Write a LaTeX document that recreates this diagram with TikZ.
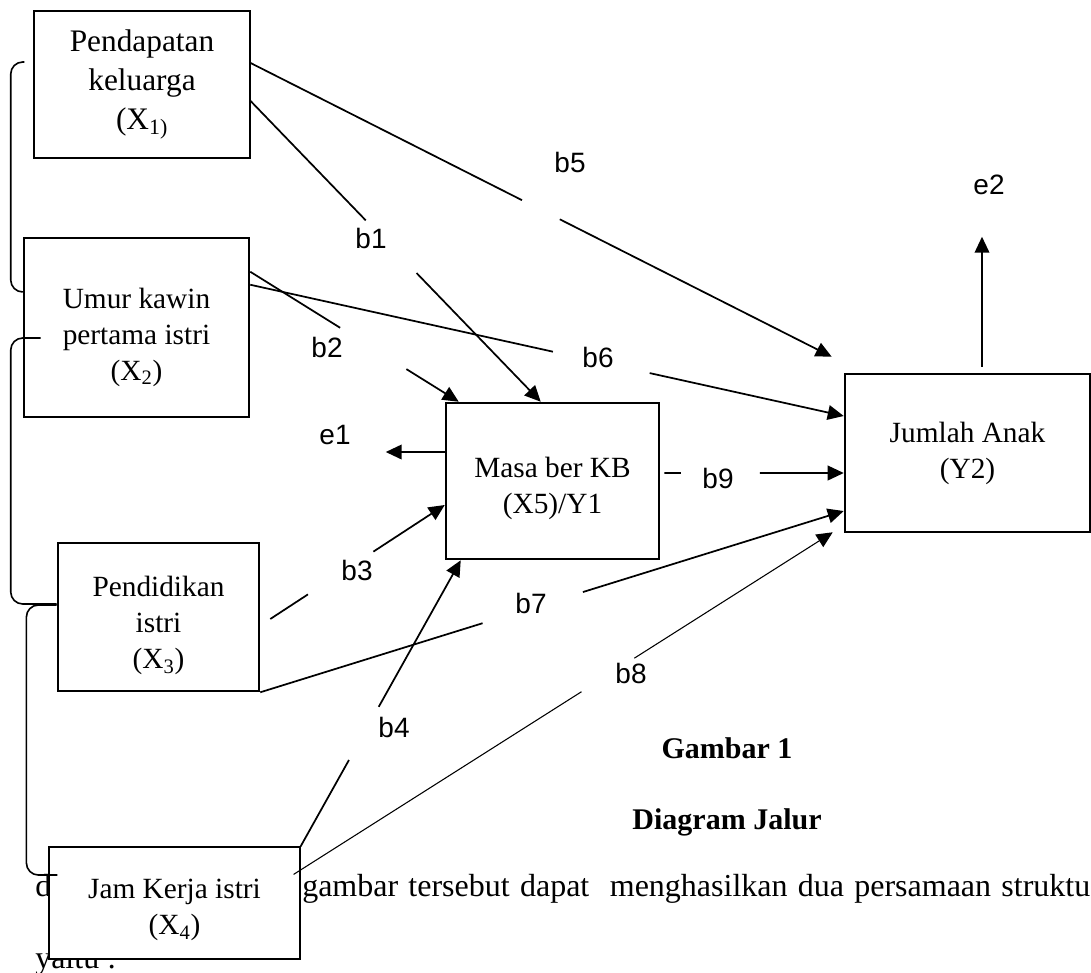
\documentclass[tikz,border=0pt]{standalone}
\usepackage{fontspec}
\setmainfont{Liberation Serif}
\setsansfont{Liberation Sans}
\usepackage{tikz}
\usetikzlibrary{arrows.meta,calc,positioning}
\newcommand{\varfont}{\fontsize{22}{27}\selectfont}
\newcommand{\coeffont}{\sffamily\fontsize{21}{24}\selectfont}
\newcommand{\figtitlefont}{\bfseries\fontsize{22.5}{26}\selectfont}
\newcommand{\bodyfont}{\fontsize{24}{28}\selectfont}
\tikzset{%
  varBox/.style={%
    rectangle,
    draw=black,
    line width=0.9pt,
    fill=white,
    inner sep=0pt,
    align=center,
    font=\varfont
  },
  varBoxThick/.style={%
    varBox,
    line width=1.9pt
  },
  pathArrow/.style={%
    -{Triangle[length=12pt,width=11pt]},
    line width=1.3pt
  },
  corrLine/.style={%
    line width=1.2pt,
    rounded corners=9pt
  },
  coefLabel/.style={%
    font=\coeffont,
    inner sep=0pt
  },
  bodyLine/.style={%
    font=\bodyfont,
    anchor=base west,
    inner sep=0pt
  }
}

\begin{document}
\begin{tikzpicture}[x=0.75pt,y=-0.75pt]
  \useasboundingbox (0,0) rectangle (1091,972);

  % running text of the page, partly hidden by the X4 box
  \node[bodyLine] (txtD) at (35,896) {d};
  \node[bodyLine] (txtLine) at (302,896) {\makebox[591pt][s]{gambar tersebut dapat\ \ menghasilkan dua persamaan struktu}};
  \node[bodyLine] (txtYaitu) at (35,968) {yaitu :};

  % variables
  \node[varBox, minimum width=162pt, minimum height=110.25pt, font=\fontsize{23.5}{29}\selectfont] (x1) at (142,84.5) {Pendapatan\\keluarga\\(X\textsubscript{1)}};
  \node[varBoxThick, minimum width=168.75pt, minimum height=134.25pt] (x2) at (136.5,327.5) {\rule{0pt}{30pt}Umur kawin\\pertama istri\\(X\textsubscript{2})};
  \node[varBoxThick, minimum width=150.75pt, minimum height=111pt] (x3) at (158.5,617) {\rule{0pt}{28.5pt}Pendidikan\\istri\\(X\textsubscript{3})};
  \node[varBox, minimum width=188.25pt, minimum height=84pt] (x4) at (174.5,903) {\rule{0pt}{25.5pt}Jam Kerja istri\\(X\textsubscript{4})};
  \node[varBoxThick, minimum width=159.75pt, minimum height=117pt] (masa) at (552.5,481) {\rule{0pt}{27pt}Masa ber KB\\(X5)/Y1};
  \node[varBoxThick, minimum width=183.75pt, minimum height=118.5pt] (jumlah) at (967.5,453) {Jumlah Anak\\(Y2)};

  % correlations between the exogenous variables
  \draw[corrLine] ($(x1.west)+(-9,-22.5)$) -| ($(x2.west)+(-12,-35.5)$) -- ($(x2.west)+(0,-35.5)$);
  \draw[corrLine] ($(x2.west)+(18,10.5)$) -| ($(x3.west)+(-46,-13)$) -- ($(x3.west)+(0,-13)$);
  \draw[corrLine] ($(x3.west)+(0,-12)$) -| ($(x4.west)+(-22,-28)$) -- ($(x4.west)+(9,-28)$);

  % path ends
  \coordinate (b5s) at ($(x1.east)+(0,-21.5)$);
  \coordinate (b5e) at ($(jumlah.north west)+(-12,-16)$);
  \coordinate (b1s) at ($(x1.east)+(0,16.5)$);
  \coordinate (b1e) at ($(masa.north west)+(96,0)$);
  \coordinate (b2s) at ($(x2.north east)+(0,35)$);
  \coordinate (b2e) at ($(masa.north west)+(14,0)$);
  \coordinate (b6s) at ($(x2.north east)+(0,48)$);
  \coordinate (b6e) at ($(jumlah.west)+(0,-37)$);
  \coordinate (b3s) at ($(x3.east)+(10,2)$);
  \coordinate (b3e) at ($(masa.west)+(0,24)$);
  \coordinate (b4e) at ($(masa.south west)+(16,0)$);
  \coordinate (b7e) at ($(jumlah.west)+(0,58)$);
  \coordinate (b8s) at ($(x4.north east)+(-7,28)$);
  \coordinate (b8e) at ($(jumlah.south west)+(-11,-1)$);
  \coordinate (b9s) at ($(masa.east)+(4,-8)$);
  \coordinate (b9e) at ($(jumlah.west)+(0,20)$);
  \coordinate (e1s) at ($(masa.west)+(0,-29)$);
  \coordinate (e1e) at ($(masa.west)+(-59,-29)$);
  \coordinate (e2s) at ($(jumlah.north)+(14.5,-6)$);
  \coordinate (e2e) at ($(jumlah.north)+(14.5,-136)$);

  % paths, broken where the labels sit
  \draw[pathArrow] (b5s) -- ($(b5s)!.467!(b5e)$) ($(b5s)!.532!(b5e)$) -- (b5e);
  \draw[pathArrow] (b1s) -- ($(b1s)!.397!(b1e)$) ($(b1s)!.572!(b1e)$) -- (b1e);
  \draw[pathArrow] (b2s) -- ($(b2s)!.431!(b2e)$) ($(b2s)!.749!(b2e)$) -- (b2e);
  \draw[pathArrow] (b6s) -- ($(b6s)!.510!(b6e)$) ($(b6s)!.673!(b6e)$) -- (b6e);
  \draw[pathArrow] (b3s) -- ($(b3s)!.216!(b3e)$) ($(b3s)!.591!(b3e)$) -- (b3e);
  \draw[pathArrow] (x4.north east) -- ($(x4.north east)!.302!(b4e)$) ($(x4.north east)!.488!(b4e)$) -- (b4e);
  \draw[pathArrow] (x3.south east) -- ($(x3.south east)!.381!(b7e)$) ($(x3.south east)!.553!(b7e)$) -- (b7e);
  \draw[pathArrow, line width=0.8pt] (b8s) -- ($(b8s)!.534!(b8e)$) ($(b8s)!.632!(b8e)$) -- (b8e);
  \draw[pathArrow] (b9s) -- ($(b9s)!.093!(b9e)$) ($(b9s)!.533!(b9e)$) -- (b9e);
  \draw[pathArrow] (e1s) -- (e1e);
  \draw[pathArrow] (e2s) -- (e2e);

  % coefficients and errors
  \node[coefLabel] (lb1) at (371,238) {b1};
  \node[coefLabel] (lb2) at (327,347) {b2};
  \node[coefLabel] (lb3) at (357,570) {b3};
  \node[coefLabel] (lb4) at (394,727) {b4};
  \node[coefLabel] (lb5) at (570,162) {b5};
  \node[coefLabel] (lb6) at (598,357) {b6};
  \node[coefLabel] (lb7) at (531,603) {b7};
  \node[coefLabel] (lb8) at (631,673) {b8};
  \node[coefLabel] (lb9) at (718,478) {b9};
  \node[coefLabel] (le1) at (335,435) {e1};
  \node[coefLabel] (le2) at (989,185) {e2};

  % caption
  \node[font=\figtitlefont] (figNum) at (727,748) {Gambar 1};
  \node[font=\figtitlefont] (figName) at (727,822) {Diagram Jalur};
\end{tikzpicture}
\end{document}
